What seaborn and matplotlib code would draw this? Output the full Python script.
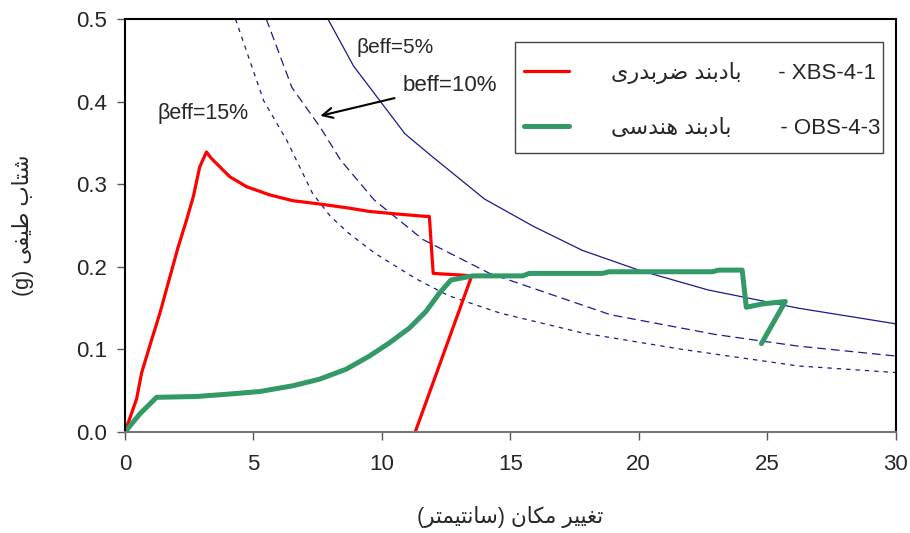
# spectral acceleration vs displacement - capacity curves with demand spectra
import numpy as np
import matplotlib
matplotlib.use('Agg')
import matplotlib.pyplot as plt
import seaborn as sns
from matplotlib.ticker import FormatStrFormatter
from matplotlib.lines import Line2D
from matplotlib.patches import Rectangle

# capacity curve XBS-4-1 (red)
red_x = [0, 0.45, 0.65, 1.04, 1.36, 1.75, 2.07, 2.40, 2.66, 2.91, 3.17, 3.37, 4.08, 4.73,
         5.64, 6.54, 7.58, 8.74, 9.52, 10.56, 11.72, 11.85, 12.0, 13.1, 13.5, 11.3]
red_y = [0, 0.040, 0.072, 0.112, 0.144, 0.188, 0.224, 0.257, 0.285, 0.321, 0.339, 0.331, 0.309, 0.297,
         0.287, 0.280, 0.276, 0.271, 0.267, 0.264, 0.261, 0.261, 0.192, 0.190, 0.189, 0.0]

# capacity curve OBS-4-3 (green)
green_x = [0, 0.58, 1.23, 2.79, 4.08, 5.25, 6.54, 7.58, 8.61, 9.52, 10.30, 11.08, 11.72, 12.24,
           12.69, 13.54, 15.48, 15.74, 18.59, 18.85, 22.87, 23.12, 24.03, 24.19, 24.81, 25.71, 24.78]
green_y = [0, 0.022, 0.042, 0.043, 0.046, 0.049, 0.056, 0.064, 0.076, 0.092, 0.108, 0.126, 0.146, 0.168,
           0.184, 0.189, 0.189, 0.192, 0.192, 0.194, 0.194, 0.196, 0.196, 0.151, 0.155, 0.158, 0.107]

# demand spectra
b5_x = [7.9, 8.9, 10.9, 11.9, 14.0, 15.9, 17.8, 20.0, 22.7, 26.2, 30.0]
b5_y = [0.500, 0.443, 0.361, 0.335, 0.282, 0.249, 0.220, 0.196, 0.172, 0.150, 0.131]
b10_x = [5.5, 6.5, 7.6, 8.4, 9.7, 11.6, 14.2, 18.9, 23.0, 26.2, 30.0]
b10_y = [0.500, 0.417, 0.369, 0.329, 0.281, 0.233, 0.192, 0.142, 0.118, 0.104, 0.092]
b15_x = [4.3, 5.4, 6.3, 7.3, 8.0, 8.7, 9.7, 11.3, 12.6, 14.6, 17.8, 21.7, 26.2, 30.0]
b15_y = [0.500, 0.401, 0.353, 0.289, 0.261, 0.241, 0.217, 0.186, 0.165, 0.144, 0.120, 0.100, 0.080, 0.072]

x_ticks = [0, 5, 10, 15, 20, 25, 30]
y_ticks = [0.0, 0.1, 0.2, 0.3, 0.4, 0.5]

# persian text in presentation forms, visual order
badband = "\uFEAA\uFEE8\uFE91\uFEA9\uFE8E\uFE91"
zarbdari = "\uFEEF\uFEAD\uFEAA\uFE91\uFEAE\uFEBF"
hendesi = "\uFEF0\uFEB3\uFEAA\uFEE8\uFEEB"
shetab = "\uFE8F\uFE8E\uFE98\uFEB7"
teyfi = "\uFEF0\uFED4\uFEF4\uFEC3"
taghyir = "\uFEAE\uFEF4\uFEF4\uFED0\uFE97"
makan = "\uFEE5\uFE8E\uFEDC\uFEE3"
santimetr = "\uFEAE\uFE98\uFEE4\uFEF4\uFE98\uFEE7\uFE8E\uFEB3"

sns.set_style("ticks")
plt.rcParams['font.family'] = ['Liberation Sans', 'DejaVu Sans']

fig = plt.figure(figsize=(9.1, 5.33), dpi=100)
ax = fig.add_axes([125/910, (533-432)/533, (895.5-125)/910, (432-19)/533])

blue = '#1a1a8c'
sns.lineplot(x=b5_x, y=b5_y, sort=False, estimator=None, color=blue, lw=0.9, ax=ax)
sns.lineplot(x=b10_x, y=b10_y, sort=False, estimator=None, color=blue, lw=0.9,
             linestyle=(0, (7, 4)), ax=ax)
sns.lineplot(x=b15_x, y=b15_y, sort=False, estimator=None, color=blue, lw=0.9,
             linestyle=(0, (3.5, 4)), ax=ax)
sns.lineplot(x=red_x, y=red_y, sort=False, estimator=None, color='#ff0000', lw=2.3, ax=ax)
sns.lineplot(x=green_x, y=green_y, sort=False, estimator=None, color='#339966', lw=3.6, ax=ax)

ax.set_xlim(0, 30)
ax.set_ylim(0, 0.5)
ax.set_xticks(x_ticks)
ax.set_yticks(y_ticks)
ax.yaxis.set_major_formatter(FormatStrFormatter('%.1f'))
ax.tick_params(direction='out', length=6, width=1, color='#555555', labelsize=16, pad=7)
ax.tick_params(axis='x', pad=10)

for s in ['left', 'top', 'right']:
    ax.spines[s].set_color('black')
    ax.spines[s].set_linewidth(1.5)
ax.spines['bottom'].set_color('#777777')
ax.spines['bottom'].set_linewidth(1.5)

ax.set_xlabel("(" + santimetr + ") " + makan + " " + taghyir, fontsize=15.5, labelpad=22)
ax.set_ylabel("(g) " + teyfi + " " + shetab, fontsize=15.5, labelpad=30)

# annotations
ax.text(9.0, 0.465, "\u03b2eff=5%", fontsize=15, va='center')
ax.text(10.8, 0.42, "beff=10%", fontsize=16, va='center')
ax.annotate("", xy=(7.5, 0.382), xytext=(10.6, 0.405),
            arrowprops=dict(arrowstyle='->', color='black', lw=1.5, mutation_scale=18))
ax.text(1.25, 0.385, "\u03b2eff=15%", fontsize=15.5, va='center')

# legend box (frame drawn separately, text sits close to its right edge)
ax.add_patch(Rectangle((0.5065, 0.6755), 0.4779, 0.2695, transform=ax.transAxes,
                       facecolor='white', edgecolor='#444444', lw=1.0, zorder=4))
handles = [Line2D([], [], color='#ff0000', lw=2.3), Line2D([], [], color='#339966', lw=3.6)]
labels = [zarbdari + " " + badband + "      - XBS-4-1",
          hendesi + " " + badband + "        - OBS-4-3"]
leg = ax.legend(handles, labels, loc='upper right', bbox_to_anchor=(0.9805, 0.897),
                borderaxespad=0, fontsize=16, handlelength=2.0, handletextpad=1.9,
                labelspacing=1.55, frameon=False, borderpad=0)
leg.set_zorder(5)

fig.savefig("out.png", dpi=100)
